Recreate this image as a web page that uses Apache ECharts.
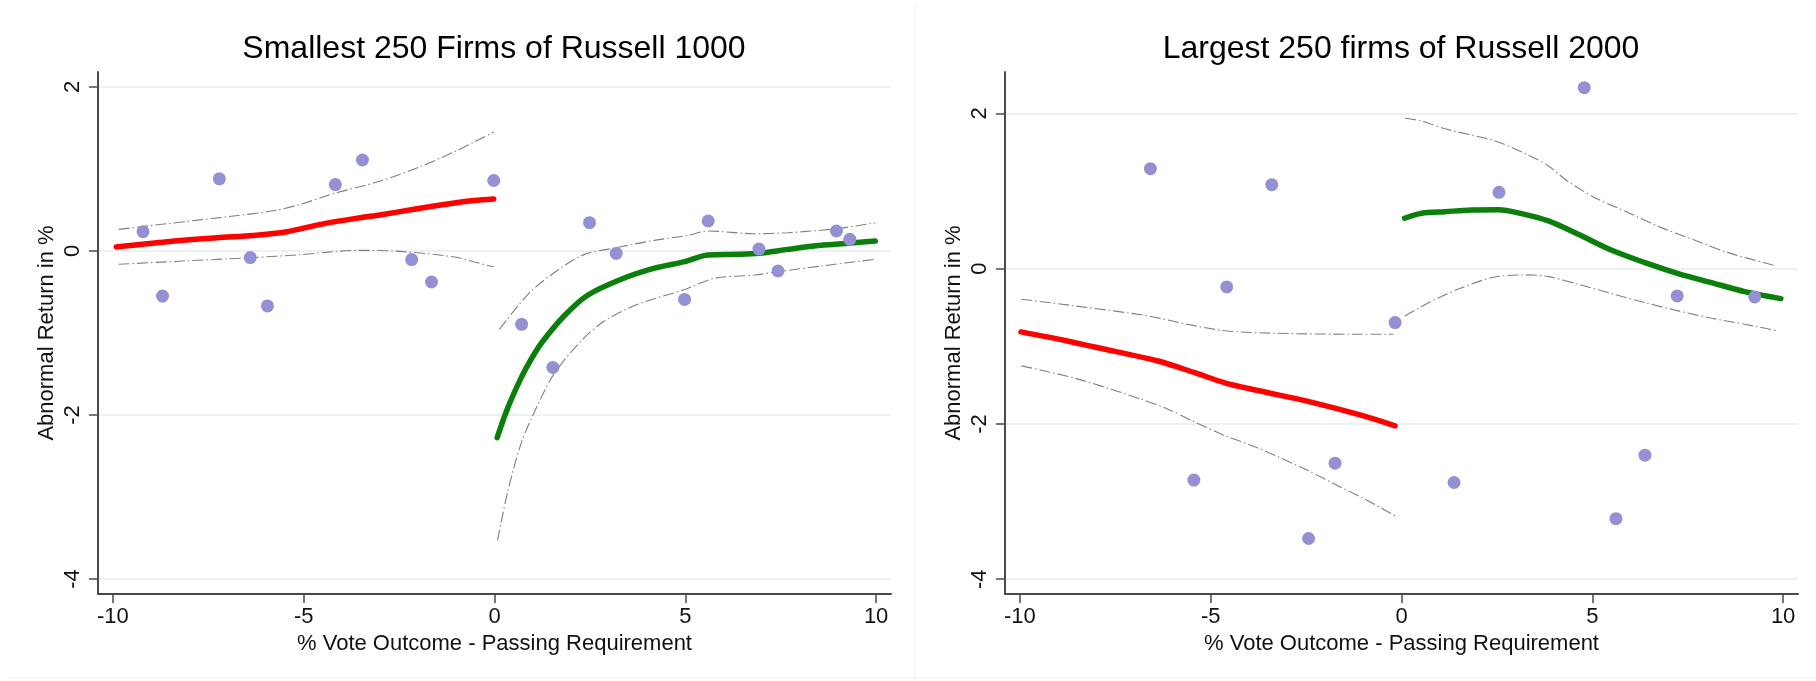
<!DOCTYPE html>
<html><head><meta charset="utf-8">
<script src="https://cdn.jsdelivr.net/npm/echarts@6/dist/echarts.min.js"></script>
<style>html,body{margin:0;padding:0;background:#fff}#c{width:1816px;height:681px}</style>
</head><body><div id="c"></div>
<script>
// ---------- text ----------
const titleLeft = 'Smallest 250 Firms of Russell 1000';
const titleRight = 'Largest 250 firms of Russell 2000';
const xAxisTitle = '% Vote Outcome - Passing Requirement';
const yAxisTitle = 'Abnormal Return in %';
const xTicks = [-10, -5, 0, 5, 10];
const yTicks = [-4, -2, 0, 2];

// ---------- left panel data ----------
const leftScatter = [[-9.21,0.235],[-8.70,-0.55],[-7.21,0.88],[-6.40,-0.08],[-5.95,-0.67],[-4.17,0.81],[-3.46,1.11],[-2.17,-0.105],[-1.65,-0.378],[-0.02,0.86],[0.71,-0.894],[1.53,-1.42],[2.49,0.345],[3.19,-0.03],[4.98,-0.59],[5.60,0.366],[6.93,0.024],[7.43,-0.244],[8.96,0.244],[9.31,0.142]];
const leftBelowFit = [[-9.91,0.049],[-8.58,0.113],[-7.27,0.162],[-6.31,0.19],[-5.44,0.235],[-4.56,0.325],[-3.52,0.406],[-3.0,0.44],[-2.03,0.515],[-1.05,0.585],[-0.53,0.615],[-0.02,0.634]];
const leftBelowUpper = [[-9.85,0.264],[-8.58,0.333],[-6.84,0.427],[-5.79,0.49],[-5.09,0.569],[-4.22,0.699],[-2.99,0.853],[-1.94,1.03],[-1.05,1.21],[-0.53,1.33],[-0.02,1.45]];
const leftBelowLower = [[-9.85,-0.162],[-8.15,-0.122],[-6.40,-0.082],[-5.09,-0.045],[-3.60,0.008],[-2.47,-0.005],[-1.05,-0.073],[-0.53,-0.134],[-0.02,-0.195]];
const leftAboveFit = [[0.07,-2.275],[0.35,-1.91],[0.70,-1.544],[0.96,-1.32],[1.25,-1.11],[1.83,-0.79],[2.44,-0.54],[3.32,-0.345],[4.19,-0.21],[4.98,-0.13],[5.59,-0.049],[6.38,-0.041],[6.93,-0.028],[7.69,0.02],[8.56,0.069],[9.26,0.094],[9.98,0.122]];
const leftAboveUpper = [[0.13,-0.955],[0.92,-0.508],[1.75,-0.203],[2.36,-0.041],[3.19,0.04],[4.19,0.13],[5.07,0.19],[5.59,0.244],[6.81,0.211],[7.69,0.223],[8.96,0.272],[9.98,0.345]];
const leftAboveLower = [[0.08,-3.53],[0.35,-2.925],[0.69,-2.356],[0.96,-2.05],[1.53,-1.52],[2.27,-1.097],[2.88,-0.853],[3.75,-0.65],[4.98,-0.47],[5.77,-0.333],[6.81,-0.293],[7.43,-0.252],[8.56,-0.183],[9.98,-0.101]];

// ---------- right panel data ----------
const rightScatter = [[-6.58,1.287],[-5.44,-2.723],[-4.58,-0.236],[-3.40,1.081],[-2.435,-3.475],[-1.74,-2.505],[-0.167,-0.695],[1.377,-2.754],[2.555,0.983],[4.79,2.33],[5.62,-3.22],[6.38,-2.402],[7.225,-0.351],[9.257,-0.364]];
const rightBelowFit = [[-9.97,-0.815],[-8.82,-0.925],[-8.04,-1.01],[-6.38,-1.19],[-5.42,-1.34],[-4.63,-1.47],[-3.76,-1.57],[-2.45,-1.71],[-1.04,-1.89],[-0.17,-2.024]];
const rightBelowUpper = [[-9.96,-0.394],[-8.56,-0.48],[-6.64,-0.609],[-5.68,-0.71],[-4.63,-0.80],[-3.32,-0.832],[-1.04,-0.845],[-0.21,-0.845]];
const rightBelowLower = [[-9.96,-1.252],[-8.56,-1.411],[-6.82,-1.681],[-6.12,-1.81],[-5.42,-1.975],[-4.63,-2.15],[-3.76,-2.31],[-2.45,-2.6],[-1.58,-2.819],[-1.04,-2.947],[-0.17,-3.183]];
const rightAboveFit = [[0.08,0.649],[0.53,0.713],[1.14,0.733],[1.84,0.755],[2.54,0.758],[3.15,0.708],[3.85,0.614],[4.63,0.443],[5.51,0.236],[6.38,0.077],[7.25,-0.064],[8.12,-0.18],[8.99,-0.296],[9.94,-0.386]];
const rightAboveUpper = [[0.09,1.936],[0.53,1.9],[1.14,1.8],[2.45,1.644],[3.32,1.463],[3.85,1.322],[4.37,1.12],[5.07,0.914],[5.94,0.721],[6.81,0.528],[7.69,0.365],[8.56,0.206],[9.82,0.035]];
const rightAboveLower = [[0.09,-0.609],[0.71,-0.438],[1.58,-0.245],[2.45,-0.107],[3.32,-0.081],[3.85,-0.103],[4.63,-0.201],[5.51,-0.322],[6.38,-0.438],[7.25,-0.544],[8.12,-0.638],[8.99,-0.716],[9.86,-0.802]];

// ---------- styling ----------
const FONT = '"Liberation Sans", Arial, Helvetica, sans-serif';
const AXIS = '#4a4a4a';
const TXT = '#111';

function makeX(gi) {
  return {
    type: 'value', gridIndex: gi, min: -10.39, max: 10.39,
    name: xAxisTitle, nameLocation: 'middle', nameGap: 39,
    nameTextStyle: { fontFamily: FONT, fontSize: 22, color: TXT },
    axisLine: { show: true, onZero: false, lineStyle: { color: AXIS, width: 2 } },
    axisTick: { show: true, length: 9, customValues: xTicks, lineStyle: { color: AXIS, width: 1.5 } },
    axisLabel: { customValues: xTicks, margin: 12, fontFamily: FONT, fontSize: 22, color: TXT },
    splitLine: { show: false }
  };
}
function makeY(gi, min, max) {
  return {
    type: 'value', gridIndex: gi, min: min, max: max,
    name: yAxisTitle, nameLocation: 'middle', nameGap: 40,
    nameTextStyle: { fontFamily: FONT, fontSize: 22, color: TXT },
    axisLine: { show: true, onZero: false, lineStyle: { color: AXIS, width: 2 } },
    axisTick: { show: true, length: 9, customValues: yTicks, lineStyle: { color: AXIS, width: 1.5 } },
    axisLabel: { customValues: yTicks, rotate: 90, margin: 14, fontFamily: FONT, fontSize: 22, color: TXT },
    splitLine: { show: true, lineStyle: { color: '#e4edf0', width: 1.5 } }
  };
}
function fit(data, gi, color) {
  return { type: 'line', xAxisIndex: gi, yAxisIndex: gi, data: data, showSymbol: false, symbol: 'none',
    smooth: 0.3, lineStyle: { color: color, width: 5.5, cap: 'round', join: 'round' }, z: 3, silent: true };
}
function ci(data, gi) {
  return { type: 'line', xAxisIndex: gi, yAxisIndex: gi, data: data, showSymbol: false, symbol: 'none',
    smooth: 0.3, lineStyle: { color: '#808080', width: 1.1, type: [11, 3, 1.5, 3] }, z: 2, silent: true };
}
function dots(data, gi) {
  return { type: 'scatter', xAxisIndex: gi, yAxisIndex: gi, data: data, symbol: 'circle', symbolSize: 13,
    itemStyle: { color: '#9490d4', opacity: 1 }, z: 4, silent: true };
}

const RED = '#ff0000', GREEN = '#0b7e0b';
const option = {
  backgroundColor: '#ffffff',
  animation: false,
  title: [
    { text: titleLeft, left: 494, top: 33, textAlign: 'center', padding: 0,
      textStyle: { fontFamily: FONT, fontSize: 32, fontWeight: 'normal', color: '#000' } },
    { text: titleRight, left: 1401, top: 33, textAlign: 'center', padding: 0,
      textStyle: { fontFamily: FONT, fontSize: 32, fontWeight: 'normal', color: '#000' } }
  ],
  grid: [
    { left: 98, right: 925, top: 72, bottom: 87, containLabel: false },
    { left: 1005, right: 18, top: 72, bottom: 87, containLabel: false }
  ],
  xAxis: [makeX(0), makeX(1)],
  yAxis: [makeY(0, -4.183, 2.183), makeY(1, -4.19, 2.532)],
  graphic: [
    { type: 'line', shape: { x1: 915, y1: 5, x2: 915, y2: 678 }, style: { stroke: '#ededed', lineWidth: 1 }, silent: true },
    { type: 'line', shape: { x1: 8, y1: 678, x2: 1816, y2: 678 }, style: { stroke: '#ededed', lineWidth: 1 }, silent: true }
  ],
  series: [
    ci(leftBelowUpper, 0), ci(leftBelowLower, 0), ci(leftAboveUpper, 0), ci(leftAboveLower, 0),
    fit(leftBelowFit, 0, RED), fit(leftAboveFit, 0, GREEN),
    dots(leftScatter, 0),
    ci(rightBelowUpper, 1), ci(rightBelowLower, 1), ci(rightAboveUpper, 1), ci(rightAboveLower, 1),
    fit(rightBelowFit, 1, RED), fit(rightAboveFit, 1, GREEN),
    dots(rightScatter, 1)
  ]
};
const chart = echarts.init(document.getElementById('c'), null, { renderer: 'canvas' });
chart.setOption(option);
</script></body></html>
